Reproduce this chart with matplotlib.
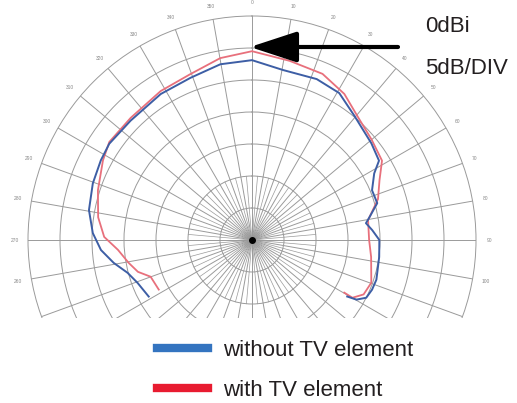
import numpy as np
import matplotlib
matplotlib.use("Agg")
import matplotlib.pyplot as plt
from matplotlib.lines import Line2D
from matplotlib.patches import Rectangle, FancyArrowPatch

plt.rcParams["font.family"] = ["Liberation Sans", "DejaVu Sans"]

# angle clockwise from north (deg), gain (dBi)
blue_theta = [-118.7, -110.5, -104.8, -99.4, -93.8, -87.5, -79.6, -70.4, -62.2, -56.0,
              -45.5, -32.0, -20.8, -10.2, 0.0, 10.3, 21.9, 30.7, 39.5, 51.0, 58.0,
              61.4, 67.5, 73.6, 79.0, 81.6, 85.3, 90.0, 97.6, 107.7, 112.5, 116.8,
              119.7, 120.7]
blue_db = [-11.6, -10.9, -9.9, -8.1, -6.35, -5.1, -4.1, -3.6, -3.3, -3.1,
           -3.4, -3.1, -2.9, -2.1, -1.9, -3.0, -2.9, -3.3, -4.85, -6.0, -6.6,
           -8.25, -9.7, -9.6, -11.3, -12.0, -11.15, -10.1, -9.95, -9.6, -9.7, -10.0,
           -11.2, -12.7]

red_theta = [-118.0, -109.9, -105.6, -100.5, -94.2, -88.8, -81.6, -72.1, -61.9, -55.5,
             -44.8, -31.5, -20.4, -9.9, 0.0, 11.9, 23.0, 32.3, 40.5, 50.0, 58.6,
             64.9, 72.0, 80.3, 90.0, 98.1, 109.7, 116.0, 119.9, 119.7]
red_db = [-13.5, -13.15, -11.5, -10.4, -9.0, -6.9, -5.7, -4.7, -3.6, -2.95,
          -3.1, -2.7, -2.35, -1.15, -0.5, -1.4, -1.8, -3.0, -4.6, -5.6, -6.2,
          -8.0, -9.3, -11.6, -11.7, -11.2, -10.2, -10.6, -11.9, -13.4]

series_labels = ["without TV element", "with TV element"]
legend_colors = ["#3474c0", "#e81b30"]
rings = [-25, -20, -15, -10, -5, 0]
angles = list(range(0, 360, 10))
# labels below the cut-off edge are not shown
angle_labels = ["" if 110 <= a <= 250 else str(a) for a in angles]

W, H = 517, 403
fig = plt.figure(figsize=(W / 100, H / 100), dpi=100)

# polar area: centre (252, 240) px, outer ring radius 224 px
cx, cy, R = 252, 240, 224
ax = fig.add_axes([(cx - R) / W, (H - cy - R) / H, 2 * R / W, 2 * R / H],
                  projection="polar")
ax.set_theta_zero_location("N")
ax.set_theta_direction(-1)
ax.set_ylim(-30, 5)
ax.set_rgrids(rings, labels=[""] * len(rings))
ax.set_thetagrids(angles, labels=angle_labels)
ax.grid(True, color="#9a9a9a", linewidth=0.7)
ax.spines["polar"].set_color("#9a9a9a")
ax.spines["polar"].set_linewidth(0.7)
ax.tick_params(axis="x", labelsize=3.5, labelcolor="#888888", pad=-1)

# extra fine spokes near the centre
for a in np.deg2rad(np.arange(5, 360, 10)):
    ax.plot([a, a], [-30, -20], color="#9a9a9a", lw=0.5)
ax.plot([0], [-30], "o", color="black", ms=4)

ax.plot(np.deg2rad(red_theta), red_db, color="#e8707c", lw=1.3)
ax.plot(np.deg2rad(blue_theta), blue_db, color="#3d5ea5", lw=1.4)

# plot is cut off below y=318
fig.add_artist(Rectangle((0, 0), 1, (H - 318) / H, transform=fig.transFigure,
                         facecolor="white", edgecolor="none", zorder=5))

# arrow to 0dBi ring
fig.add_artist(FancyArrowPatch(
    (398 / W, 1 - 47 / H), (250 / W, 1 - 47 / H), transform=fig.transFigure,
    arrowstyle="-|>,head_length=2.9,head_width=0.95", mutation_scale=10,
    color="black", lw=3, zorder=6, shrinkA=0, shrinkB=0))
fig.text(425 / W, 1 - 27 / H, "0dBi", fontsize=16, color="#231f20",
         va="center", ha="left", zorder=6)
fig.text(425 / W, 1 - 68 / H, "5dB/DIV", fontsize=16, color="#231f20",
         va="center", ha="left", zorder=6)

handles = [Line2D([], [], color=c, lw=6) for c in legend_colors]
leg = fig.legend(handles, series_labels, loc="center",
                 bbox_to_anchor=(285 / W, 1 - 370.5 / H), frameon=False,
                 fontsize=16, handlelength=2.3, handletextpad=0.7,
                 labelspacing=0.85)
for t in leg.get_texts():
    t.set_color("#231f20")
leg.set_zorder(7)

fig.savefig("out.png", dpi=100)
